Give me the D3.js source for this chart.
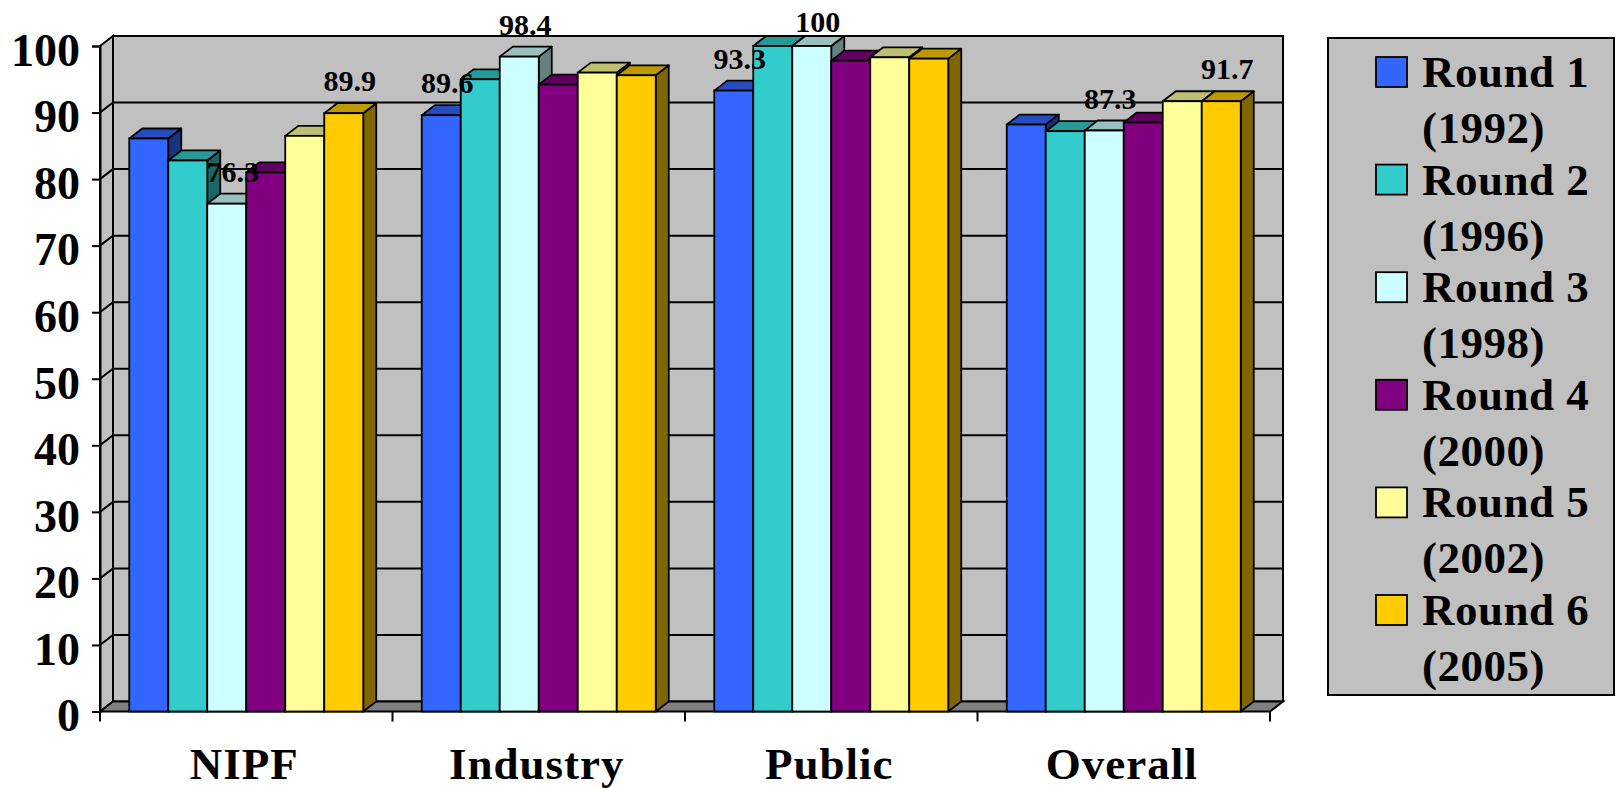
<!DOCTYPE html>
<html>
<head>
<meta charset="utf-8">
<script src="https://cdn.jsdelivr.net/npm/d3@7"></script>
<style>
  html, body { margin: 0; padding: 0; background: #ffffff; }
  svg { display: block; }
  text { font-family: "Liberation Serif", "Times New Roman", serif; font-weight: bold; fill: #000; }
</style>
</head>
<body>
<svg id="chart" width="1617" height="788"></svg>
<script>
// ---------------- data ----------------
const categories = ["NIPF", "Industry", "Public", "Overall"];
const seriesNames = ["Round 1 (1992)", "Round 2 (1996)", "Round 3 (1998)",
                     "Round 4 (2000)", "Round 5 (2002)", "Round 6 (2005)"];
const seriesColors = ["#3366FF", "#33CCCC", "#CCFFFF", "#800080", "#FFFF99", "#FFCC00"];
const round1 = [86.1, 89.6, 93.3, 88.2];
const round2 = [82.8, 95.0, 100, 87.2];
const round3 = [76.3, 98.4, 100, 87.3];
const round4 = [81.0, 94.2, 97.8, 88.5];
const round5 = [86.5, 96.0, 98.3, 91.7];
const round6 = [89.9, 95.6, 98.1, 91.7];
const yTicks = [0, 10, 20, 30, 40, 50, 60, 70, 80, 90, 100];
// data labels shown in the chart: [category, series index]
const labeledPoints = [["NIPF", 2], ["NIPF", 5], ["Industry", 0], ["Industry", 2],
                       ["Public", 0], ["Public", 2], ["Overall", 2], ["Overall", 5]];

const seriesValues = [round1, round2, round3, round4, round5, round6];

// ---------------- layout ----------------
const svg = d3.select("#chart");
const DX = 13, DY = 10;             // 3-D depth offset
const x0 = d3.scaleBand().domain(categories).range([100, 1270]);
const x1 = d3.scaleBand().domain(d3.range(seriesNames.length))
  .range([0, x0.bandwidth()]).paddingInner(0).paddingOuter(0.75);
const y = d3.scaleLinear().domain([0, 100]).range([711.5, 46]);
const yMin = y(0), yMax = y(100);
const xL = x0.range()[0], xR = x0.range()[1];

function shade(c, f) {
  const r = d3.rgb(c);
  return d3.rgb(r.r * f, r.g * f, r.b * f).formatHex();
}

// ---------------- walls & floor ----------------
const walls = svg.append("g");
walls.append("rect")
  .attr("x", xL + DX).attr("y", yMax - DY)
  .attr("width", xR - xL).attr("height", yMin - yMax)
  .attr("fill", "#C0C0C0").attr("stroke", "#000").attr("stroke-width", 2);
walls.append("polygon")
  .attr("points", [[xL, yMax], [xL + DX, yMax - DY], [xL + DX, yMin - DY], [xL, yMin]].join(" "))
  .attr("fill", "#C0C0C0").attr("stroke", "#000").attr("stroke-width", 2);
yTicks.filter(t => t > 0 && t < 100).forEach(t => {
  walls.append("polyline")
    .attr("points", [[xL, y(t)], [xL + DX, y(t) - DY], [xR + DX, y(t) - DY]].join(" "))
    .attr("fill", "none").attr("stroke", "#000").attr("stroke-width", 2);
});
walls.append("polygon")
  .attr("points", [[xL, yMin], [xR, yMin], [xR + DX, yMin - DY], [xL + DX, yMin - DY]].join(" "))
  .attr("fill", "#808080").attr("stroke", "#000").attr("stroke-width", 2);

// ---------------- axes ----------------
const yAxis = svg.append("g").attr("transform", `translate(${xL},0)`)
  .call(d3.axisLeft(y).tickValues(yTicks).tickSize(8).tickPadding(12).tickFormat(d3.format("d")));
yAxis.select(".domain").attr("stroke", "#000").attr("stroke-width", 2);
yAxis.selectAll(".tick line").attr("stroke", "#000").attr("stroke-width", 2);
yAxis.selectAll(".tick text")
  .attr("font-family", "Liberation Serif, serif").attr("font-weight", "bold")
  .attr("font-size", 46).attr("dy", "0.42em").attr("fill", "#000");

const xAxis = svg.append("g");
const boundaries = categories.map(c => x0(c)).concat([xR]);
xAxis.selectAll("line").data(boundaries).join("line")
  .attr("x1", d => d).attr("x2", d => d)
  .attr("y1", yMin).attr("y2", yMin + 10)
  .attr("stroke", "#000").attr("stroke-width", 2);
xAxis.selectAll("text").data(categories).join("text")
  .attr("x", d => x0(d) + x0.bandwidth() / 2 - 2)
  .attr("y", 779)
  .attr("text-anchor", "middle")
  .attr("font-size", 45)
  .attr("letter-spacing", 1)
  .text(d => d);

// ---------------- bars ----------------
const barsG = svg.append("g");
const labelsG = svg.append("g");
const w = x1.bandwidth();
categories.forEach((c, ci) => {
  seriesNames.forEach((s, si) => {
    const v = seriesValues[si][ci];
    const bx = x0(c) + x1(si);
    const top = y(v), bot = y(0);
    const col = seriesColors[si];
    const g = barsG.append("g");
    g.append("polygon")
      .attr("points", [[bx + w, top], [bx + w + DX, top - DY], [bx + w + DX, bot - DY], [bx + w, bot]].join(" "))
      .attr("fill", shade(col, 0.5)).attr("stroke", "#000").attr("stroke-width", 1.8)
      .attr("stroke-linejoin", "round");
    g.append("polygon")
      .attr("points", [[bx, top], [bx + DX, top - DY], [bx + w + DX, top - DY], [bx + w, top]].join(" "))
      .attr("fill", shade(col, 0.75)).attr("stroke", "#000").attr("stroke-width", 1.8)
      .attr("stroke-linejoin", "round");
    g.append("rect")
      .attr("x", bx).attr("y", top).attr("width", w).attr("height", bot - top)
      .attr("fill", col).attr("stroke", "#000").attr("stroke-width", 1.8);
    if (labeledPoints.some(p => p[0] === c && p[1] === si)) {
      labelsG.append("text")
        .attr("x", bx + w / 2 + 6)
        .attr("y", Math.max(top - 22, 32))
        .attr("text-anchor", "middle")
        .attr("font-size", 30)
        .text(d3.format(".3~r")(v));
    }
  });
});

// ---------------- legend ----------------
const lg = svg.append("g");
lg.append("rect").attr("x", 1328).attr("y", 38).attr("width", 286).attr("height", 657)
  .attr("fill", "#C0C0C0").attr("stroke", "#000").attr("stroke-width", 2);
seriesNames.forEach((name, i) => {
  const base = 87 + 107.6 * i;
  const parts = name.split(" (");
  lg.append("rect").attr("x", 1376).attr("y", base - 30).attr("width", 31).attr("height", 30)
    .attr("fill", seriesColors[i]).attr("stroke", "#000").attr("stroke-width", 1.8);
  lg.append("text").attr("x", 1422).attr("y", base).attr("font-size", 45)
    .attr("letter-spacing", 0.5).text(parts[0]);
  lg.append("text").attr("x", 1422).attr("y", base + 56).attr("font-size", 45)
    .attr("letter-spacing", 0.5).text("(" + parts[1]);
});
</script>
</body>
</html>
